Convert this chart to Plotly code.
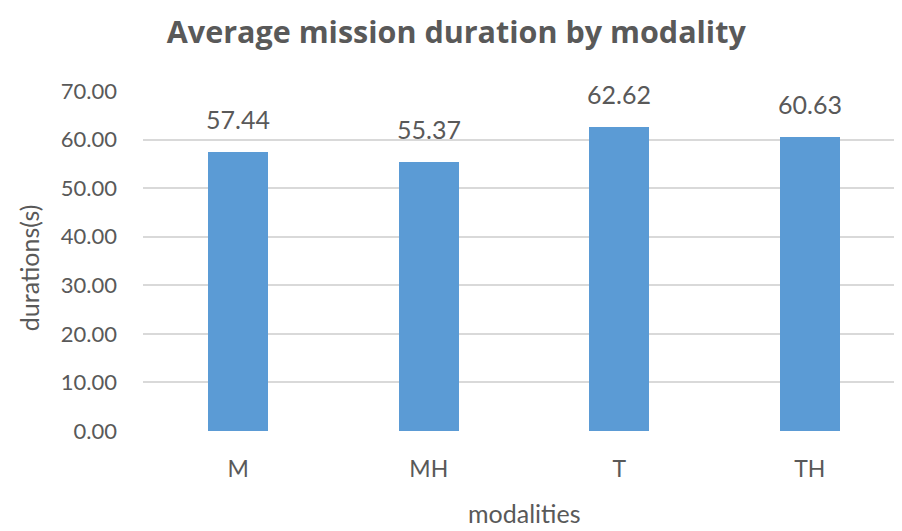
import plotly.graph_objects as go

categories = ["M", "MH", "T", "TH"]
durations = [57.44, 55.37, 62.62, 60.63]
y_ticks = [0, 10, 20, 30, 40, 50, 60, 70]
y_tick_labels = ["0.00", "10.00", "20.00", "30.00", "40.00", "50.00", "60.00", "70.00"]

TEXT = "#595959"
BAR = "#5B9BD5"
GRID = "#D9D9D9"
FONT = "Lato"

fig = go.Figure()
fig.add_trace(go.Bar(
    x=categories, y=durations, marker=dict(color=BAR, line=dict(width=0)),
    width=0.317, hoverinfo="skip",
))

for c, v in zip(categories, durations):
    fig.add_annotation(x=c, y=v, text=f"{v:.2f}", showarrow=False,
                       yanchor="bottom", yshift=16,
                       font=dict(family=FONT, size=25, color=TEXT))

fig.add_annotation(text="durations(s)", xref="paper", yref="paper",
                   x=-0.1496, y=0.479, xanchor="center", yanchor="middle",
                   textangle=-90, showarrow=False,
                   font=dict(family=FONT, size=25, color=TEXT))
fig.add_annotation(text="modalities", xref="paper", yref="paper",
                   x=0.5, y=-0.289, xanchor="center", yanchor="bottom",
                   showarrow=False, borderpad=0,
                   font=dict(family=FONT, size=25, color=TEXT))

fig.update_layout(
    width=902, height=523,
    margin=dict(l=135, r=5, t=83, b=100),
    paper_bgcolor="white", plot_bgcolor="white",
    showlegend=False,
    title=dict(text="<b>Average mission duration by modality</b>",
               x=0.497, xanchor="center", y=1 - 24 / 523, yanchor="middle",
               font=dict(family="Open Sans", size=30.5, color=TEXT)),
    xaxis=dict(range=[-0.5, 3.5], showgrid=False, zeroline=False,
               showline=False, ticks="", automargin=False,
               tickfont=dict(family=FONT, size=23, color=TEXT),
               ticklabelstandoff=22),
    yaxis=dict(range=[0, 70], tickvals=y_ticks, ticktext=y_tick_labels,
               showgrid=True, gridcolor=GRID, gridwidth=2,
               zeroline=False, showline=False, ticks="", automargin=False,
               tickfont=dict(family=FONT, size=22, color=TEXT),
               ticklabelstandoff=25),
    bargap=0,
)

fig.write_html("out.html")
